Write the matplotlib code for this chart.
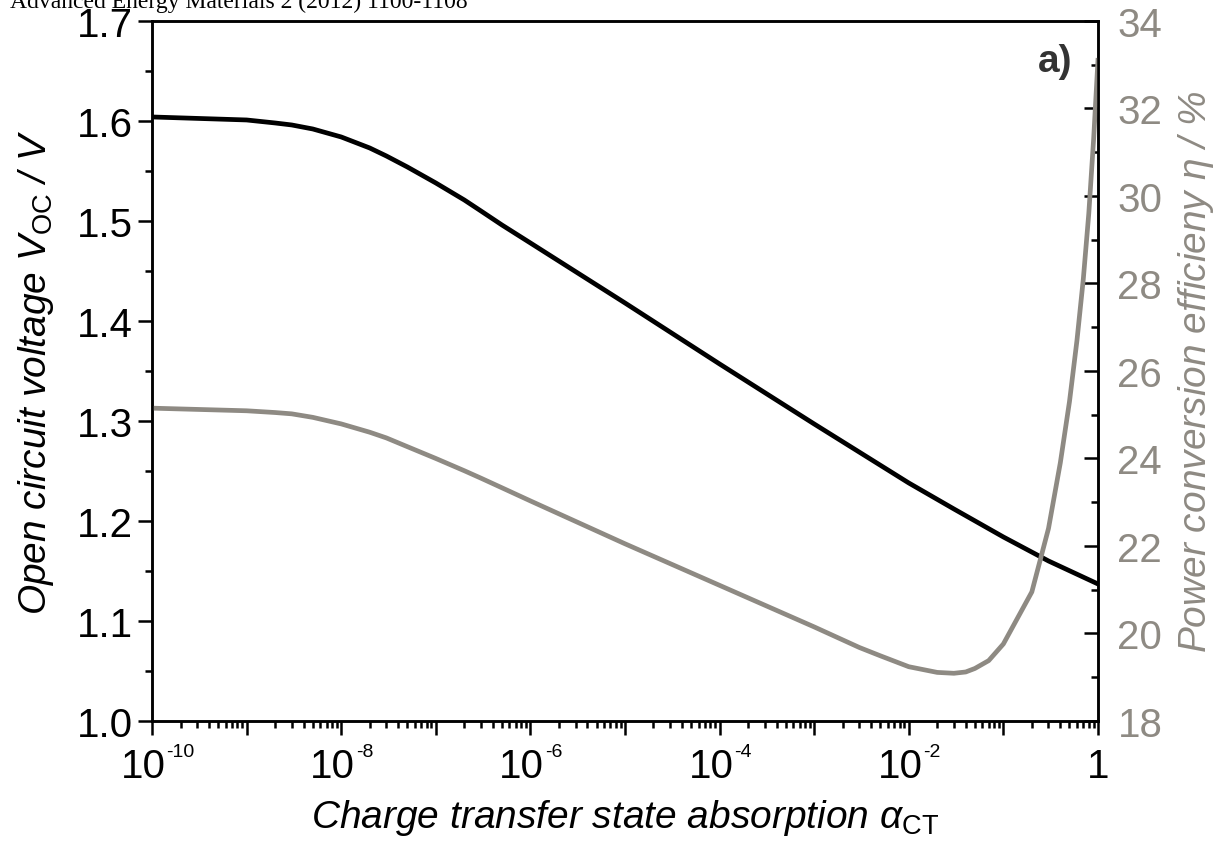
import numpy as np
import matplotlib
matplotlib.use('Agg')
import matplotlib.pyplot as plt
import matplotlib.ticker as ticker

plt.rcParams['font.family'] = ['Liberation Sans', 'DejaVu Sans']
plt.rcParams['mathtext.fontset'] = 'custom'
plt.rcParams['mathtext.rm'] = 'Liberation Sans'
plt.rcParams['mathtext.it'] = 'Liberation Sans:italic'
plt.rcParams['mathtext.bf'] = 'Liberation Sans:bold'

# charge transfer state absorption -> open circuit voltage (V)
alpha_voc = [1e-10, 1e-9, 2e-9, 3e-9, 5e-9, 1e-8, 2e-8, 3e-8, 5e-8, 1e-7,
             2e-7, 3e-7, 5e-7, 1e-6, 1e-5, 1e-4, 1e-3, 1e-2, 3e-2, 1e-1,
             3e-1, 1.0]
voc = [1.604, 1.601, 1.598, 1.596, 1.592, 1.584, 1.573, 1.565, 1.554, 1.538,
       1.521, 1.510, 1.496, 1.478, 1.418, 1.357, 1.297, 1.238, 1.212, 1.184,
       1.160, 1.137]

# charge transfer state absorption -> power conversion efficiency (%)
alpha_eta = [1e-10, 1e-9, 2e-9, 3e-9, 5e-9, 1e-8, 2e-8, 3e-8, 5e-8, 1e-7,
             2e-7, 3e-7, 5e-7, 1e-6, 1e-5, 1e-4, 1e-3, 3e-3, 5e-3, 1e-2,
             2e-2, 3e-2, 4e-2, 5e-2, 7e-2, 0.1, 0.2, 0.3, 0.4, 0.5,
             0.6, 0.7, 0.8, 0.9, 1.0]
eta = [25.15, 25.09, 25.05, 25.02, 24.94, 24.79, 24.60, 24.47, 24.27, 24.0,
       23.72, 23.55, 23.33, 23.03, 22.05, 21.1, 20.15, 19.68, 19.49, 19.24,
       19.11, 19.09, 19.12, 19.2, 19.38, 19.76, 20.95, 22.4, 23.9, 25.3,
       26.7, 28.1, 29.6, 31.3, 33.1]

# labelled decades and their exponents (None -> plain "1")
x_exponents = {-10: '-10', -8: '-8', -6: '-6', -4: '-4', -2: '-2', 0: None}

gray = '#8e8a83'

fig = plt.figure(figsize=(12.32, 8.45), dpi=100)
ax = fig.add_axes([0.1234, 0.1456, 0.7678, 0.8284])
ax2 = ax.twinx()

ax.plot(alpha_voc, voc, color='black', lw=3.4, solid_joinstyle='round')
ax2.plot(alpha_eta, eta, color=gray, lw=3.4, solid_joinstyle='round')

ax.set_xscale('log')
ax.set_xlim(1e-10, 1)
ax.set_ylim(1.0, 1.7)
ax2.set_ylim(18, 34)

ax.xaxis.set_major_locator(ticker.LogLocator(base=10, numticks=20))
ax.xaxis.set_minor_locator(ticker.LogLocator(base=10, subs=np.arange(2, 10), numticks=200))
ax.xaxis.set_major_formatter(ticker.NullFormatter())
ax.xaxis.set_minor_formatter(ticker.NullFormatter())

# x tick labels: "10" with a small superscript exponent
for k, e in x_exponents.items():
    xy = (10.0 ** k, 0)
    if e is None:
        ax.annotate('1', xy=xy, xycoords=('data', 'axes fraction'),
                    xytext=(0, -19), textcoords='offset points', fontsize=29,
                    ha='center', va='top', annotation_clip=False)
        continue
    ax.annotate('10', xy=xy, xycoords=('data', 'axes fraction'),
                xytext=(10, -19), textcoords='offset points', fontsize=29,
                ha='right', va='top', annotation_clip=False)
    ax.annotate(e, xy=xy, xycoords=('data', 'axes fraction'),
                xytext=(10.5, -16), textcoords='offset points', fontsize=14,
                ha='left', va='top', annotation_clip=False)

ax.yaxis.set_major_locator(ticker.MultipleLocator(0.1))
ax.yaxis.set_minor_locator(ticker.MultipleLocator(0.05))
ax.yaxis.set_major_formatter(ticker.FormatStrFormatter('%.1f'))
ax2.yaxis.set_major_locator(ticker.MultipleLocator(2))
ax2.yaxis.set_minor_locator(ticker.MultipleLocator(1))

for a in (ax, ax2):
    for s in a.spines.values():
        s.set_linewidth(1.8)

ax.tick_params(axis='both', which='major', direction='out', length=10, width=1.8,
               labelsize=29, pad=4)
ax.tick_params(axis='both', which='minor', direction='out', length=5, width=1.8)
ax.tick_params(top=False, right=False, which='both')
ax2.tick_params(axis='y', which='major', direction='in', length=10, width=1.8,
                labelsize=29, labelcolor=gray, pad=14)
ax2.tick_params(axis='y', which='minor', direction='in', length=5, width=1.8)

ax.set_xlabel(r'Charge transfer state absorption $\alpha_{\mathrm{CT}}$',
              fontsize=28, fontstyle='italic')
ax.xaxis.set_label_coords(0.5, -0.108)
ax.set_ylabel(r'Open circuit voltage $V_{\mathrm{OC}}$ / V',
              fontsize=28, fontstyle='italic', labelpad=15)
ax2.set_ylabel(r'Power conversion efficieny $\eta$ / %', fontsize=28,
               fontstyle='italic', color=gray, rotation=90, labelpad=10)

ax.text(0.9725, 0.943, 'a)', transform=ax.transAxes, fontsize=28,
        fontweight='bold', color='#333333', ha='right', va='center')

fig.text(0.008, 0.997, 'Advanced Energy Materials 2 (2012) 1100-1108',
         family='Liberation Serif', fontsize=17, va='center', ha='left')

fig.savefig('out.png', dpi=100)
